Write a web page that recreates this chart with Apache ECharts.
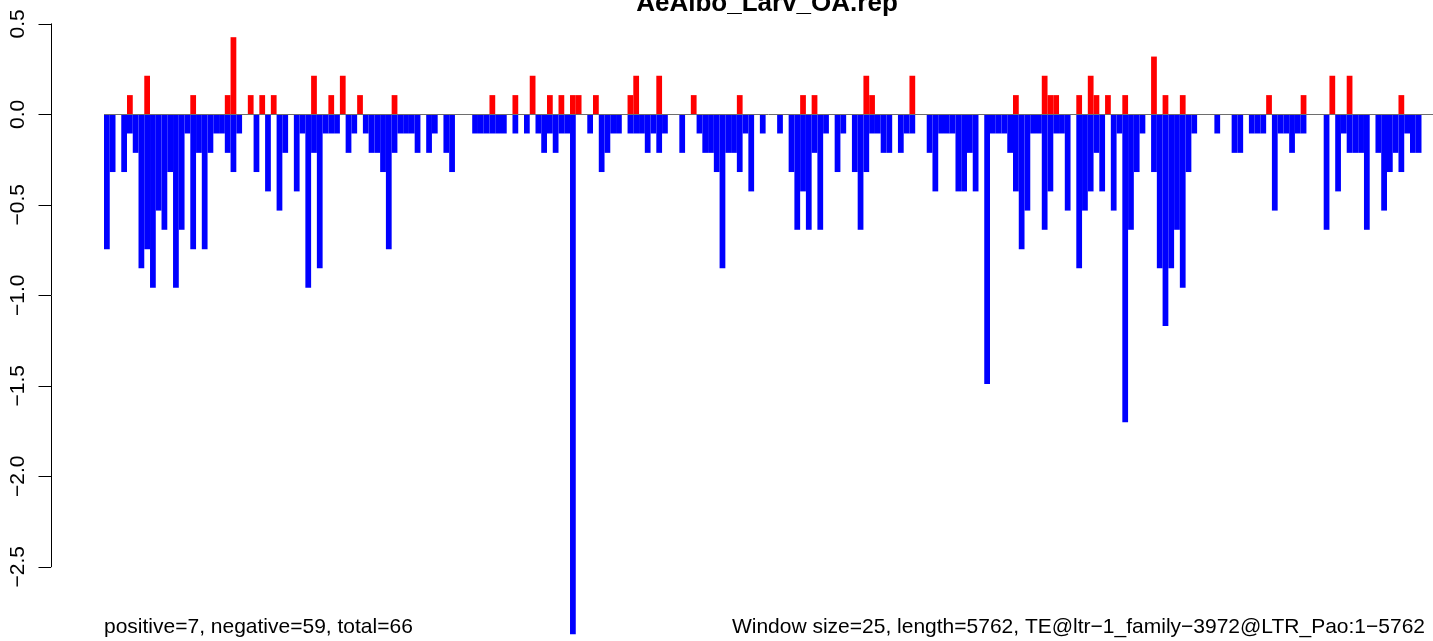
<!DOCTYPE html>
<html>
<head>
<meta charset="utf-8">
<script src="https://cdn.jsdelivr.net/npm/echarts@6/dist/echarts.min.js"></script>
<style>
html,body{margin:0;padding:0;background:#fff;}
#chart{width:1433px;height:641px;}
</style>
</head>
<body>
<div id="chart"></div>
<script>
// ---- data (one value per 25 bp window) ----
const titleText = "AeAlbo_Larv_OA.rep";
const leftNote = "positive=7, negative=59, total=66";
const rightNote = "Window size=25, length=5762, TE@ltr\u22121_family\u22123972@LTR_Pao:1\u22125762";
const yTickValues = [0.5, 0.0, -0.5, -1.0, -1.5, -2.0, -2.5];
const yTickLabels = ["0.5", "0.0", "\u22120.5", "\u22121.0", "\u22121.5", "\u22122.0", "\u22122.5"];

const positiveValues = [
  0,0,0,0,0.106,0,0,0.213,0,0,
  0,0,0,0,0,0.106,0,0,0,0,
  0,0.106,0.426,0,0,0.106,0,0.106,0,0.106,
  0,0,0,0,0,0,0.213,0,0,0.106,
  0,0.213,0,0,0.106,0,0,0,0,0,
  0.106,0,0,0,0,0,0,0,0,0,
  0,0,0,0,0,0,0,0.106,0,0,
  0,0.106,0,0,0.213,0,0,0.106,0,0.106,
  0,0.106,0.106,0,0,0.106,0,0,0,0,
  0,0.106,0.213,0,0,0,0.213,0,0,0,
  0,0,0.106,0,0,0,0,0,0,0,
  0.106,0,0,0,0,0,0,0,0,0,
  0,0.106,0,0.106,0,0,0,0,0,0,
  0,0,0.213,0.106,0,0,0,0,0,0,
  0.213,0,0,0,0,0,0,0,0,0,
  0,0,0,0,0,0,0,0,0.106,0,
  0,0,0,0.213,0.106,0.106,0,0,0,0.106,
  0,0.213,0.106,0,0.106,0,0,0.106,0,0,
  0,0,0.319,0,0.106,0,0,0.106,0,0,
  0,0,0,0,0,0,0,0,0,0,
  0,0,0.106,0,0,0,0,0,0.106,0,
  0,0,0,0.213,0,0,0.213,0,0,0,
  0,0,0,0,0,0.106,0,0,0,0,
  0
];

const negativeValues = [
  -0.745,-0.319,0,-0.319,-0.106,-0.213,-0.851,-0.745,-0.958,-0.532,
  -0.638,-0.319,-0.958,-0.638,-0.106,-0.745,-0.213,-0.745,-0.213,-0.106,
  -0.106,-0.213,-0.319,-0.106,0,0,-0.319,0,-0.426,0,
  -0.532,-0.213,0,-0.426,-0.106,-0.958,-0.213,-0.851,-0.106,-0.106,
  -0.106,0,-0.213,-0.106,0,-0.106,-0.213,-0.213,-0.319,-0.745,
  -0.213,-0.106,-0.106,-0.106,-0.213,0,-0.213,-0.106,0,-0.213,
  -0.319,0,0,0,-0.106,-0.106,-0.106,-0.106,-0.106,-0.106,
  0,-0.106,0,-0.106,0,-0.106,-0.213,-0.106,-0.213,-0.106,
  -0.106,-2.873,0,0,-0.106,0,-0.319,-0.213,-0.106,-0.106,
  0,-0.106,-0.106,-0.106,-0.213,-0.106,-0.213,-0.106,0,0,
  -0.213,0,0,-0.106,-0.213,-0.213,-0.319,-0.851,-0.213,-0.213,
  -0.319,-0.106,-0.426,0,-0.106,0,0,-0.106,0,-0.319,
  -0.638,-0.426,-0.638,-0.213,-0.638,-0.106,0,-0.319,-0.106,0,
  -0.319,-0.638,-0.319,-0.106,-0.106,-0.213,-0.213,0,-0.213,-0.106,
  -0.106,0,0,-0.213,-0.426,-0.106,-0.106,-0.106,-0.426,-0.426,
  -0.213,-0.426,0,-1.490,-0.106,-0.106,-0.106,-0.213,-0.426,-0.745,
  -0.532,-0.106,-0.106,-0.638,-0.426,-0.106,-0.106,-0.532,0,-0.851,
  -0.532,-0.426,-0.213,-0.426,0,-0.532,-0.106,-1.702,-0.638,-0.319,
  -0.106,0,-0.319,-0.851,-1.170,-0.851,-0.638,-0.958,-0.319,-0.106,
  0,0,0,-0.106,0,0,-0.213,-0.213,0,-0.106,
  -0.106,-0.106,0,-0.532,-0.106,-0.106,-0.213,-0.106,-0.106,0,
  0,0,-0.638,0,-0.426,-0.106,-0.213,-0.213,-0.213,-0.638,
  0,-0.213,-0.532,-0.319,-0.213,-0.319,-0.106,-0.213,-0.213,0,
  0
];

// window start positions (bp) used as category names
const categories = positiveValues.map((_, i) => String(i * 25 + 1));

// ---- layout ----
const W = 1433, H = 641;
const zeroY = 114.3;      // pixel row of y = 0
const pxPerUnit = 181;    // pixels per y unit
const plotLeft = 104;
const axisX = 51;

const yMaxPlot = zeroY / pxPerUnit;
const yMinPlot = -(H - zeroY) / pxPerUnit;

const chart = echarts.init(document.getElementById('chart'), null, {renderer: 'canvas'});
const FONT = '"Liberation Sans", Arial, Helvetica, sans-serif';

chart.setOption({
  animation: false,
  backgroundColor: '#ffffff',
  grid: [
    {left: plotLeft, right: 0, top: 0, bottom: 0, containLabel: false},
    {left: axisX, width: 1, top: zeroY - 0.5 * pxPerUnit, height: 3 * pxPerUnit, containLabel: false}
  ],
  xAxis: [
    {type: 'category', gridIndex: 0, data: categories, show: false, boundaryGap: true},
    {type: 'value', gridIndex: 1, min: 0, max: 1, show: false}
  ],
  yAxis: [
    {type: 'value', gridIndex: 0, min: yMinPlot, max: yMaxPlot, show: false},
    {
      type: 'value', gridIndex: 1, min: -2.5, max: 0.5, interval: 0.5,
      axisLine: {show: true, lineStyle: {color: '#000', width: 1}},
      axisTick: {show: true, length: 12.5, lineStyle: {color: '#000', width: 1}},
      splitLine: {show: false},
      axisLabel: {
        show: true, rotate: 90, margin: 22, fontSize: 21, color: '#000', fontFamily: FONT,
        formatter: function (v) {
          const idx = yTickValues.findIndex(t => Math.abs(t - v) < 1e-6);
          return idx >= 0 ? yTickLabels[idx] : '';
        }
      }
    }
  ],
  series: [
    {
      name: 'positive', type: 'bar', xAxisIndex: 0, yAxisIndex: 0,
      data: positiveValues, barWidth: '100%', barGap: '-100%',
      itemStyle: {color: '#FF0000'}, silent: true
    },
    {
      name: 'negative', type: 'bar', xAxisIndex: 0, yAxisIndex: 0,
      data: negativeValues, barWidth: '100%', barGap: '-100%',
      itemStyle: {color: '#0000FF'}, silent: true,
      markLine: {
        silent: true, symbol: ['none', 'none'], label: {show: false},
        lineStyle: {color: '#6e6e6e', width: 1, type: 'solid'},
        data: [{yAxis: 0}]
      }
    },
    {type: 'line', xAxisIndex: 1, yAxisIndex: 1, data: [], silent: true}
  ],
  graphic: [
    {type: 'text', x: 767, y: 3.5, style: {text: titleText, font: 'bold 26px ' + FONT, fill: '#000', align: 'center', verticalAlign: 'middle'}},
    {type: 'text', x: 104, y: 627.5, style: {text: leftNote, font: '21px ' + FONT, fill: '#000', align: 'left', verticalAlign: 'middle'}},
    {type: 'text', x: 1425, y: 627.5, style: {text: rightNote, font: '21px ' + FONT, fill: '#000', align: 'right', verticalAlign: 'middle'}}
  ]
});
</script>
</body>
</html>
